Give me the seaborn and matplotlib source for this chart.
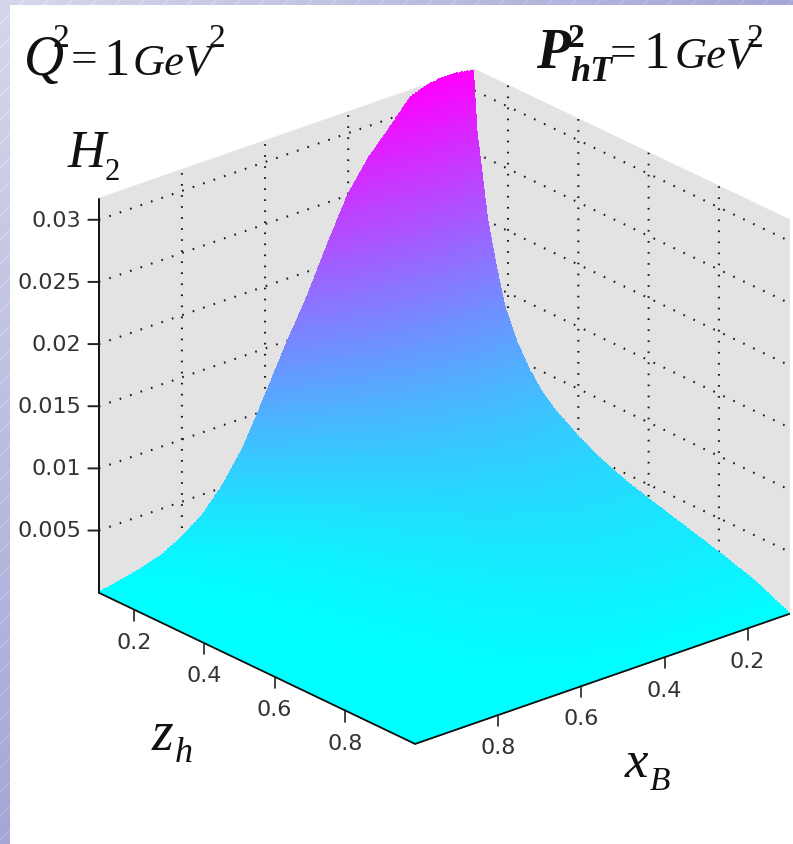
import numpy as np
import matplotlib
matplotlib.use("Agg")
import matplotlib.pyplot as plt
from matplotlib.patches import Rectangle
from mpl_toolkits.mplot3d import proj3d
import seaborn as sns

# values
x_b = [0.10, 0.15, 0.20, 0.25, 0.30, 0.35, 0.40, 0.45, 0.50, 0.55,
       0.60, 0.65, 0.70, 0.75, 0.80, 0.85, 0.90, 0.95, 1.00]
z_h = [0.10, 0.11, 0.12, 0.14, 0.165, 0.19, 0.225, 0.26, 0.29,
       0.33, 0.40, 0.46, 0.53, 0.60, 0.70, 0.80, 0.90, 1.00]

# H2 in units of 1e-4, one row per x_b, one column per z_h
h2_table = [
    [315, 268, 246, 202, 167, 137, 113, 96, 85, 74, 61, 52, 44, 38, 30, 22, 13, 0],
    [318, 270, 248, 204, 169, 138, 114, 97, 86, 75, 61, 52, 45, 38, 30, 22, 13, 0],
    [317, 269, 247, 203, 168, 138, 114, 97, 86, 74, 61, 52, 44, 38, 30, 22, 13, 0],
    [311, 264, 243, 199, 165, 135, 112, 95, 84, 73, 60, 51, 44, 37, 30, 22, 12, 0],
    [292, 248, 228, 187, 155, 127, 105, 89, 79, 69, 56, 48, 41, 35, 28, 20, 12, 0],
    [274, 233, 214, 175, 145, 119, 99, 84, 74, 64, 53, 45, 38, 33, 26, 19, 11, 0],
    [250, 213, 195, 160, 133, 109, 90, 76, 68, 59, 48, 41, 35, 30, 24, 18, 10, 0],
    [215, 183, 168, 138, 114, 94, 77, 66, 58, 51, 41, 35, 30, 26, 20, 15, 9, 0],
    [178, 151, 139, 114, 94, 77, 64, 54, 48, 42, 34, 29, 25, 21, 17, 12, 7, 0],
    [146, 124, 114, 93, 77, 64, 53, 45, 39, 34, 28, 24, 20, 18, 14, 10, 6, 0],
    [111, 94, 87, 71, 59, 48, 40, 34, 30, 26, 21, 18, 16, 13, 11, 8, 4, 0],
    [77, 65, 60, 49, 41, 33, 28, 23, 21, 18, 15, 13, 11, 9, 7, 5, 3, 0],
    [52, 44, 41, 33, 28, 23, 19, 16, 14, 12, 10, 9, 7, 6, 5, 4, 2, 0],
    [33, 28, 26, 21, 17, 14, 12, 10, 9, 8, 6, 5, 5, 4, 3, 2, 1, 0],
    [21, 18, 16, 13, 11, 9, 8, 6, 6, 5, 4, 3, 3, 3, 2, 1, 1, 0],
    [12, 10, 9, 8, 6, 5, 4, 4, 3, 3, 2, 2, 2, 1, 1, 1, 0, 0],
    [7, 6, 5, 4, 4, 3, 3, 2, 2, 2, 1, 1, 1, 1, 1, 0, 0, 0],
    [3, 3, 2, 2, 2, 1, 1, 1, 1, 1, 1, 0, 0, 0, 0, 0, 0, 0],
    [0, 0, 0, 0, 0, 0, 0, 0, 0, 0, 0, 0, 0, 0, 0, 0, 0, 0],
]

plane_ticks = [0.2, 0.4, 0.6, 0.8]
plane_labels = ["0.2", "0.4", "0.6", "0.8"]
h_ticks = [0.005, 0.01, 0.015, 0.02, 0.025, 0.03]
h_labels = ["0.005", "0.01", "0.015", "0.02", "0.025", "0.03"]

W, H = 793, 845
TICK_COLOR = "#333333"

sns.set_theme(style="white")
cool = sns.color_palette("cool", as_cmap=True)

fig = plt.figure(figsize=(W / 100, H / 100), dpi=100, facecolor="white")

# slide background: lavender strip on the left and on top, with diagonal hatching
bg = fig.add_axes([0, 0, 1, 1], zorder=-1)
yy, xx = np.mgrid[0:H, 0:W]
shade = np.clip(xx / W + yy / H, 0, 1)
img = np.dstack([0.84 - 0.19 * shade, 0.84 - 0.19 * shade, 0.92 - 0.08 * shade])
img[(xx + yy) % 24 < 2] += 0.05
bg.imshow(np.clip(img, 0, 1), extent=(0, W, H, 0), aspect="auto")
bg.add_patch(Rectangle((10, 6), W, H, color="white", lw=0))
bg.set_xlim(0, W)
bg.set_ylim(H, 0)
bg.axis("off")

# square 3d axes placed so the box corners land where they are in the picture
side = 792
ax = fig.add_axes([37.3 / W, 1 - (22 + side) / H, side / W, side / H], projection="3d")
ax.patch.set_visible(False)
ax.set_proj_type("ortho")
ax.view_init(elev=24.05, azim=49.55)
ax.set_box_aspect((491, 487, 431))
ax.computed_zorder = False

z_top = 0.0317
ax.set_xlim(0.1, 1.0)
ax.set_ylim(0.1, 1.0)
ax.set_zlim(0, z_top)

X, Y = np.meshgrid(x_b, z_h)
Z = np.array(h2_table).T * 1e-4

cs = ax.contourf(X, Y, Z, levels=np.linspace(-1e-6, 0.0318 + 1e-5, 400), cmap=cool, zorder=1)
cs.set_edgecolor("face")
cs.set_linewidth(0.8)

# walls and dotted grid
for axis in (ax.xaxis, ax.yaxis, ax.zaxis):
    axis.set_pane_color((0.89, 0.89, 0.89, 1.0))
    axis.pane.set_edgecolor((0.89, 0.89, 0.89, 1.0))
    axis.line.set_color((0, 0, 0, 0))
    axis._axinfo["grid"].update(color="#1a1a1a", linewidth=1.5, linestyle=(0, (0.8, 4.5)))
    axis._axinfo["tick"]["inward_factor"] = 0
    axis._axinfo["tick"]["outward_factor"] = 0
ax.set_xticks(plane_ticks)
ax.set_yticks(plane_ticks)
ax.set_zticks(h_ticks)
ax.set_xticklabels([])
ax.set_yticklabels([])
ax.set_zticklabels([])
ax.grid(True)

# axis lines and matlab style ticks
ax.plot([0.1, 1.0], [1.0, 1.0], [0, 0], color="#111111", lw=1.3, zorder=3)
ax.plot([1.0, 1.0], [0.1, 1.0], [0, 0], color="#111111", lw=1.3, zorder=3)
ax.plot([1.0, 1.0], [0.1, 0.1], [0, z_top], color="#111111", lw=1.4, zorder=3)

M = ax.get_proj()


def tick_text(x, y, z, s, ha):
    # 3d position goes through the axes projection, text itself stays 2d
    px, py, _ = proj3d.proj_transform(x, y, z, M)
    ax.text2D(px, py, s, transform=ax.transData, ha=ha, va="center", fontsize=16,
              color=TICK_COLOR, family="DejaVu Sans")


for t, lab in zip(plane_ticks, plane_labels):
    ax.plot([t, t], [1.0, 1.0], [0, -0.0009], color="#222222", lw=1.2, zorder=3)
    ax.plot([1.0, 1.0], [t, t], [0, -0.0009], color="#222222", lw=1.2, zorder=3)
    tick_text(t, 1.0, -0.0026, lab, "center")
    tick_text(1.0, t, -0.0026, lab, "center")

for t, lab in zip(h_ticks, h_labels):
    # short tick going straight left of the vertical axis
    px0, py0, _ = proj3d.proj_transform(1.0, 0.1, t, M)
    ax.plot([1.0, 1.0145], [0.1, 0.0874], [t, t], color="#222222", lw=1.4, zorder=4)
    tick_text(1.024, 0.079, t, lab, "right")


def put(x, y, s, size, **kw):
    kw.setdefault("style", "italic")
    fig.text(x / W, 1 - y / H, s, fontsize=size, family="Liberation Serif", color="#111111", va="baseline", **kw)


# formula texts, placed piece by piece since the pieces overlap in the picture
put(24, 75, "Q", 40)
put(53, 47, "2", 24, style="normal")
put(71, 72, "=", 34, style="normal")
put(103, 75, "1", 38, style="normal")
put(133, 75, "GeV", 32)
put(208, 47, "2", 24, style="normal")

put(536, 68, "P", 40, weight="bold")
put(568, 47, "2", 24, style="normal", weight="bold")
put(570, 81, "hT", 26, weight="bold")
put(610, 66, "=", 34, style="normal")
put(643, 68, "1", 38, style="normal")
put(675, 68, "GeV", 32)
put(746, 47, "2", 24, style="normal")

put(68, 167, "H", 38)
put(105, 180, "2", 22, style="normal")

put(152, 750, "z", 40)
put(175, 762, "h", 26)
put(625, 777, "x", 38)
put(650, 790, "B", 24)

fig.savefig("out.png", dpi=100, facecolor="white")
